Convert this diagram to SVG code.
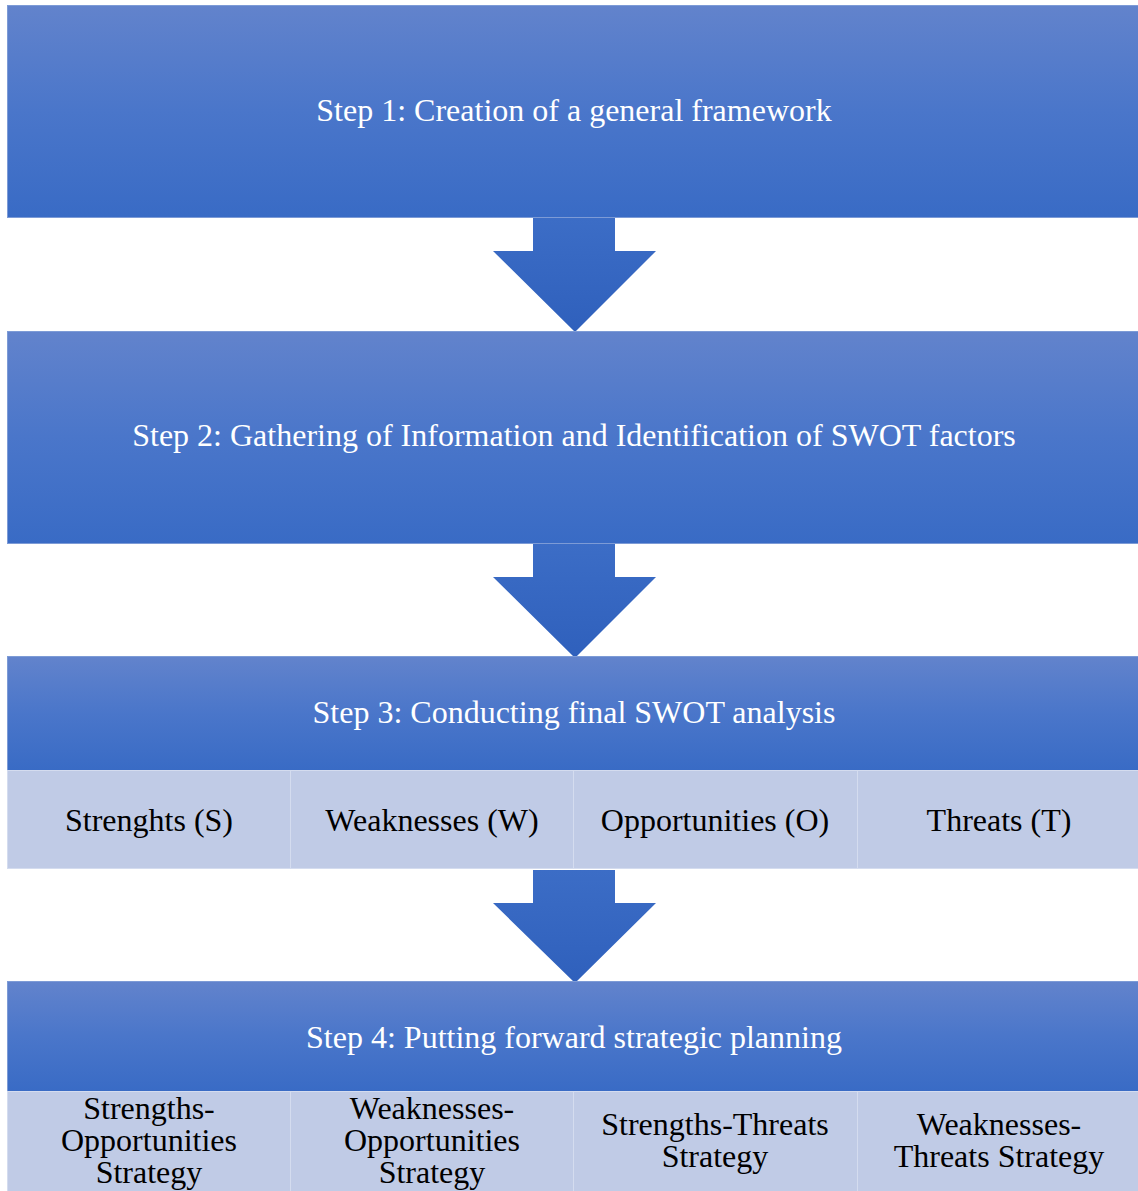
<svg xmlns="http://www.w3.org/2000/svg" width="1138" height="1191" viewBox="0 0 1138 1191">
<defs>
<linearGradient id="g" x1="0" y1="0" x2="0" y2="1">
<stop offset="0" stop-color="#6283CC"/>
<stop offset="0.5" stop-color="#4A76CA"/>
<stop offset="1" stop-color="#396BC5"/>
</linearGradient>
<linearGradient id="ga" x1="0" y1="0" x2="0" y2="1">
<stop offset="0" stop-color="#3C6DC6"/>
<stop offset="1" stop-color="#2F60BC"/>
</linearGradient>
</defs>
<style>
.box{fill:url(#g);stroke:#7D9BD6;stroke-width:1}
.cell{fill:#C0CBE6;stroke:#D4DCEF;stroke-width:1}
.arr{fill:url(#ga)}
.t{font-family:"Liberation Serif","Times New Roman",serif;font-size:32px;text-anchor:middle}
.w{fill:#FFFFFF}
.k{fill:#000000}
</style>
<g id="connectors">
<path class="arr" d="M533,218 H615 V251 H656 L575,332 L493,251 H533 Z"/>
<path class="arr" d="M533,544 H615 V577 H656 L575,658 L493,577 H533 Z"/>
<path class="arr" d="M533,870 H615 V903 H656 L575,983 L493,903 H533 Z"/>
</g>
<g id="step1">
<rect class="box" x="7.5" y="5.5" width="1135" height="212"/>
<text class="t w" x="574" y="121">Step 1: Creation of a general framework</text>
</g>
<g id="step2">
<rect class="box" x="7.5" y="331.5" width="1135" height="212"/>
<text class="t w" x="574" y="446">Step 2: Gathering of Information and Identification of SWOT factors</text>
</g>
<g id="step3">
<rect class="box" x="7.5" y="656.5" width="1135" height="114"/>
<text class="t w" x="574" y="723">Step 3: Conducting final SWOT analysis</text>
</g>
<g id="s">
<rect class="cell" x="7.5" y="770.5" width="283" height="98"/>
<text class="t k" x="149" y="831">Strenghts (S)</text>
</g>
<g id="w">
<rect class="cell" x="290.5" y="770.5" width="283" height="98"/>
<text class="t k" x="432" y="831">Weaknesses (W)</text>
</g>
<g id="o">
<rect class="cell" x="573.5" y="770.5" width="284" height="98"/>
<text class="t k" x="715" y="831">Opportunities (O)</text>
</g>
<g id="th">
<rect class="cell" x="857.5" y="770.5" width="285" height="98"/>
<text class="t k" x="999" y="831">Threats (T)</text>
</g>
<g id="step4">
<rect class="box" x="7.5" y="981.5" width="1135" height="110"/>
<text class="t w" x="574" y="1048">Step 4: Putting forward strategic planning</text>
</g>
<g id="so">
<rect class="cell" x="7.5" y="1091.5" width="283" height="105"/>
<text class="t k" x="149" y="1119">Strengths-</text>
<text class="t k" x="149" y="1151">Opportunities</text>
<text class="t k" x="149" y="1183">Strategy</text>
</g>
<g id="wo">
<rect class="cell" x="290.5" y="1091.5" width="283" height="105"/>
<text class="t k" x="432" y="1119">Weaknesses-</text>
<text class="t k" x="432" y="1151">Opportunities</text>
<text class="t k" x="432" y="1183">Strategy</text>
</g>
<g id="st">
<rect class="cell" x="573.5" y="1091.5" width="284" height="105"/>
<text class="t k" x="715" y="1135">Strengths-Threats</text>
<text class="t k" x="715" y="1167">Strategy</text>
</g>
<g id="wt">
<rect class="cell" x="857.5" y="1091.5" width="285" height="105"/>
<text class="t k" x="999" y="1135">Weaknesses-</text>
<text class="t k" x="999" y="1167">Threats Strategy</text>
</g>
</svg>
